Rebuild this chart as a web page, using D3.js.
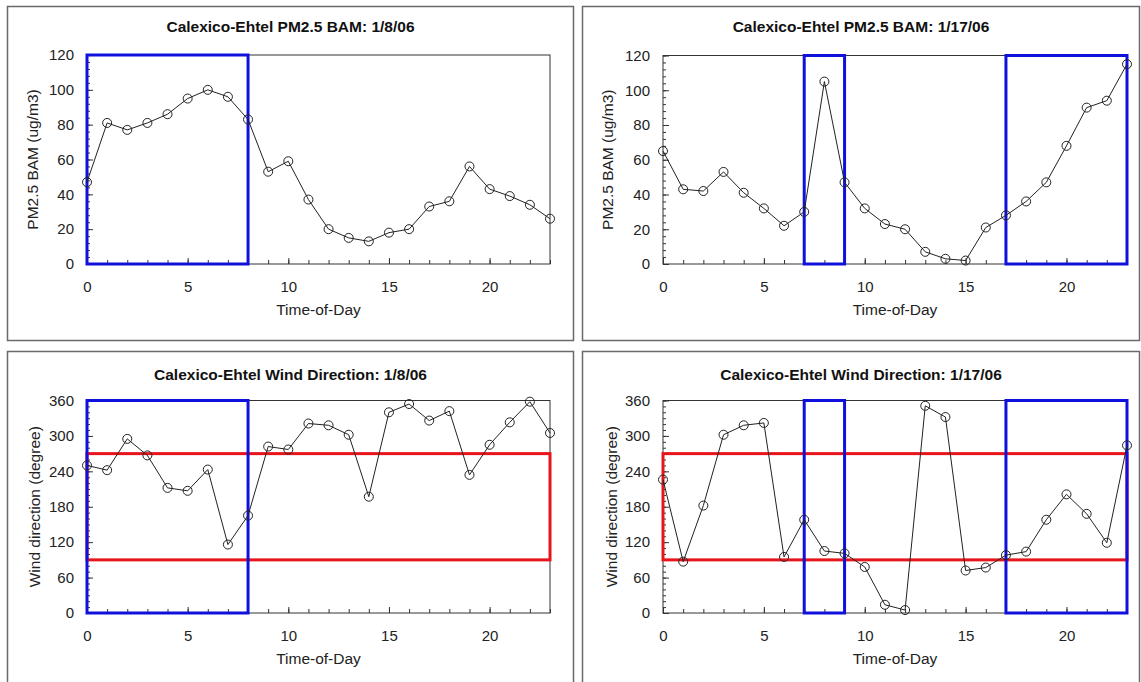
<!DOCTYPE html>
<html>
<head>
<meta charset="utf-8">
<script src="https://cdn.jsdelivr.net/npm/d3@7"></script>
<style>
  body { margin: 0; background: #fff; }
  svg { display: block; font-family: "Liberation Sans", Arial, sans-serif; }
</style>
</head>
<body>
<svg id="chart" width="1141" height="682"></svg>
<script>
// Hours of the day (x categories)
const hours = [0, 1, 2, 3, 4, 5, 6, 7, 8, 9, 10, 11, 12, 13, 14, 15, 16, 17, 18, 19, 20, 21, 22, 23];

// PM2.5 BAM (ug/m3)
const pmJan8 = [47, 81, 77, 81, 86, 95, 100, 96, 83, 53, 59, 37, 20, 15, 13, 18, 20, 33, 36, 56, 43, 39, 34, 26];
const pmJan17 = [65, 43, 42, 53, 41, 32, 22, 30, 105, 47, 32, 23, 20, 7, 3, 2, 21, 28, 36, 47, 68, 90, 94, 115];

// Wind direction (degree)
const wdJan8 = [250, 242, 295, 267, 212, 207, 243, 116, 165, 282, 277, 321, 318, 302, 197, 340, 354, 326, 342, 234, 285, 323, 358, 305];
const wdJan17 = [226, 87, 182, 302, 318, 322, 95, 158, 105, 101, 78, 14, 5, 351, 332, 72, 77, 98, 104, 158, 201, 168, 119, 284];

// Tick labels
const xTicks = [0, 5, 10, 15, 20];
const pmTicks = [0, 20, 40, 60, 80, 100, 120];
const wdTicks = [0, 60, 120, 180, 240, 300, 360];

// Highlight boxes (hour ranges) and the wind band (degrees)
const blueJan8 = [[0, 8]];
const blueJan17 = [[7, 9], [17, 23]];
const redBand = [90, 270];

const svg = d3.select("#chart");

const panels = [
  { title: "Calexico-Ehtel PM2.5 BAM: 1/8/06", frame: [7.5, 6.5, 566, 334], titleY: 27,
    plot: { x0: 87, x1: 550, y0: 55, y1: 264 }, values: pmJan8, yMax: 120, yTicks: pmTicks,
    minorStep: 4, ylabel: "PM2.5 BAM (ug/m3)", labelX: 33, blue: blueJan8, red: null },
  { title: "Calexico-Ehtel PM2.5 BAM: 1/17/06", frame: [582.5, 6.5, 557, 334], titleY: 27,
    plot: { x0: 663, x1: 1127, y0: 55.5, y1: 264 }, values: pmJan17, yMax: 120, yTicks: pmTicks,
    minorStep: 4, ylabel: "PM2.5 BAM (ug/m3)", labelX: 608, blue: blueJan17, red: null },
  { title: "Calexico-Ehtel Wind Direction: 1/8/06", frame: [7.5, 351.5, 566, 340], titleY: 375,
    plot: { x0: 87, x1: 550, y0: 400.5, y1: 613 }, values: wdJan8, yMax: 360, yTicks: wdTicks,
    minorStep: 10, ylabel: "Wind direction (degree)", labelX: 35, blue: blueJan8, red: redBand },
  { title: "Calexico-Ehtel Wind Direction: 1/17/06", frame: [582.5, 351.5, 557, 340], titleY: 375,
    plot: { x0: 663, x1: 1127, y0: 400.5, y1: 613 }, values: wdJan17, yMax: 360, yTicks: wdTicks,
    minorStep: 10, ylabel: "Wind direction (degree)", labelX: 612, blue: blueJan17, red: redBand }
];

panels.forEach(p => {
  const g = svg.append("g");
  const [fx, fy, fw, fh] = p.frame;

  // Panel border
  g.append("rect")
    .attr("x", fx).attr("y", fy)
    .attr("width", fw).attr("height", fh)
    .attr("fill", "#fff")
    .attr("stroke", "#6a6a6a")
    .attr("stroke-width", 1.5);

  const x = d3.scaleLinear().domain([0, 23]).range([p.plot.x0, p.plot.x1]);
  const y = d3.scaleLinear().domain([0, p.yMax]).range([p.plot.y1, p.plot.y0]);

  // Title
  g.append("text")
    .attr("x", fx + fw / 2)
    .attr("y", p.titleY)
    .attr("dy", "0.35em")
    .attr("text-anchor", "middle")
    .style("font-size", "15.5px")
    .style("font-weight", "700")
    .attr("fill", "#111")
    .text(p.title);

  // Plot frame
  g.append("rect")
    .attr("x", p.plot.x0).attr("y", p.plot.y0)
    .attr("width", p.plot.x1 - p.plot.x0)
    .attr("height", p.plot.y1 - p.plot.y0)
    .attr("fill", "none")
    .attr("stroke", "#333")
    .attr("stroke-width", 1);

  // Minor ticks (inward)
  const yMinor = d3.range(0, p.yMax + 0.001, p.minorStep);
  g.append("g")
    .attr("transform", `translate(${p.plot.x0},0)`)
    .call(d3.axisLeft(y).tickValues(yMinor).tickSize(-3).tickFormat(""))
    .call(a => a.select(".domain").remove())
    .call(a => a.selectAll("line").attr("stroke", "#333"));

  g.append("g")
    .attr("transform", `translate(0,${p.plot.y1})`)
    .call(d3.axisBottom(x).tickValues(hours).tickSize(-4).tickFormat(""))
    .call(a => a.select(".domain").remove())
    .call(a => a.selectAll("line").attr("stroke", "#333"));

  // Major ticks + labels
  g.append("g")
    .attr("transform", `translate(${p.plot.x0},0)`)
    .call(d3.axisLeft(y).tickValues(p.yTicks).tickSize(-6).tickPadding(13))
    .call(a => a.select(".domain").remove())
    .call(a => a.selectAll("line").attr("stroke", "#333"))
    .call(a => a.selectAll("text").style("font-size", "15px").attr("fill", "#222"));

  g.append("g")
    .attr("transform", `translate(0,${p.plot.y1})`)
    .call(d3.axisBottom(x).tickValues(xTicks).tickSize(-6).tickPadding(17))
    .call(a => a.select(".domain").remove())
    .call(a => a.selectAll("line").attr("stroke", "#333"))
    .call(a => a.selectAll("text").style("font-size", "15px").attr("fill", "#222"));

  // Axis titles
  g.append("text")
    .attr("x", (p.plot.x0 + p.plot.x1) / 2)
    .attr("y", p.plot.y1 + 46)
    .attr("dy", "0.35em")
    .attr("text-anchor", "middle")
    .style("font-size", "15.5px")
    .attr("fill", "#222")
    .text("Time-of-Day");

  g.append("text")
    .attr("transform", `translate(${p.labelX},${(p.plot.y0 + p.plot.y1) / 2}) rotate(-90)`)
    .attr("dy", "0.35em")
    .attr("text-anchor", "middle")
    .style("font-size", "15.5px")
    .attr("fill", "#222")
    .text(p.ylabel);

  // Red wind band
  if (p.red) {
    g.append("rect")
      .attr("x", x(0)).attr("y", y(p.red[1]))
      .attr("width", x(23) - x(0))
      .attr("height", y(p.red[0]) - y(p.red[1]))
      .attr("fill", "none")
      .attr("stroke", "#e8141c")
      .attr("stroke-width", 3);
  }

  // Blue highlight boxes
  p.blue.forEach(b => {
    g.append("rect")
      .attr("x", x(b[0])).attr("y", y(p.yMax))
      .attr("width", x(b[1]) - x(b[0]))
      .attr("height", y(0) - y(p.yMax))
      .attr("fill", "none")
      .attr("stroke", "#1010dc")
      .attr("stroke-width", 3);
  });

  // Data line and markers
  const line = d3.line().x((d, i) => x(hours[i])).y(d => y(d));
  g.append("path")
    .datum(p.values)
    .attr("d", line)
    .attr("fill", "none")
    .attr("stroke", "#222")
    .attr("stroke-width", 1);

  g.selectAll(".pt")
    .data(p.values)
    .enter()
    .append("circle")
    .attr("class", "pt")
    .attr("cx", (d, i) => x(hours[i]))
    .attr("cy", d => y(d))
    .attr("r", 4.5)
    .attr("fill", "none")
    .attr("stroke", "#222")
    .attr("stroke-width", 1);
});
</script>
</body>
</html>
